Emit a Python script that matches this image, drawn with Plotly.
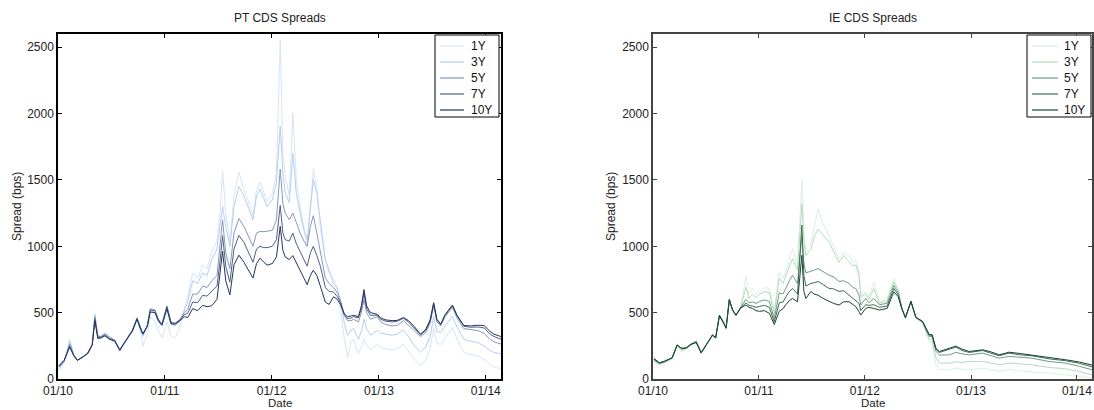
import plotly.graph_objects as go

# ---------------- Portugal (PT) CDS spreads, bps ----------------
pt_dates = [
    "2010-01-04", "2010-01-22", "2010-02-10", "2010-02-24", "2010-03-08", "2010-03-25", "2010-04-12", "2010-04-28", "2010-05-07", "2010-05-17",
    "2010-05-28", "2010-06-10", "2010-06-25", "2010-07-14", "2010-07-31", "2010-08-15", "2010-08-28", "2010-09-12", "2010-09-28", "2010-10-08",
    "2010-10-18", "2010-11-02", "2010-11-12", "2010-11-28", "2010-12-10", "2010-12-22", "2011-01-08", "2011-01-22", "2011-02-05", "2011-02-22",
    "2011-03-08", "2011-03-20", "2011-04-06", "2011-04-23", "2011-05-10", "2011-05-25", "2011-06-10", "2011-06-28", "2011-07-08", "2011-07-17",
    "2011-07-28", "2011-08-11", "2011-08-25", "2011-09-11", "2011-09-28", "2011-10-12", "2011-10-29", "2011-11-10", "2011-11-22", "2011-12-05",
    "2011-12-16", "2012-01-03", "2012-01-17", "2012-01-30", "2012-02-08", "2012-02-16", "2012-03-01", "2012-03-13", "2012-03-25", "2012-04-07",
    "2012-04-20", "2012-05-01", "2012-05-12", "2012-05-22", "2012-06-03", "2012-06-15", "2012-07-02", "2012-07-15", "2012-07-30", "2012-08-12",
    "2012-08-23", "2012-09-05", "2012-09-16", "2012-09-28", "2012-10-06", "2012-10-23", "2012-11-02", "2012-11-11", "2012-11-20", "2012-12-03",
    "2012-12-27", "2013-01-07", "2013-01-25", "2013-02-15", "2013-03-05", "2013-03-26", "2013-04-12", "2013-05-02", "2013-05-23", "2013-06-10",
    "2013-06-25", "2013-07-07", "2013-07-18", "2013-07-31", "2013-08-15", "2013-09-09", "2013-09-25", "2013-10-18", "2013-11-10", "2013-12-05",
    "2013-12-26", "2014-01-15", "2014-01-29", "2014-02-22",
]
pt_1y = [
    65, 120, 300, 190, 140, 160, 190, 260, 480, 320,
    300, 340, 310, 280, 210, 260, 300, 360, 450, 380,
    250, 330, 470, 430, 360, 310, 430, 320, 310, 390,
    520, 620, 800, 761, 860, 830, 963, 1040, 1250, 1570,
    1250, 1037, 1380, 1560, 1420, 1350, 1231, 1420, 1485, 1400,
    1336, 1400, 1550, 2552, 1700, 1530, 1383, 2005, 1500, 1300,
    1150, 1010, 1300, 1582, 1435, 1134, 888, 800, 760, 687,
    515, 300, 164, 280, 300, 190, 240, 300, 260, 220,
    261, 240, 226, 220, 230, 260, 210, 150, 104, 140,
    230, 388, 270, 260, 310, 388, 300, 200, 185, 175,
    150, 110, 90, 77,
]
pt_3y = [
    78, 130, 285, 185, 142, 162, 195, 265, 490, 330,
    320, 350, 320, 295, 222, 275, 315, 370, 465, 400,
    320, 400, 520, 500, 440, 400, 520, 410, 400, 440,
    520, 580, 740, 720, 800, 780, 900, 980, 1150, 1300,
    1150, 1000, 1300, 1450, 1380, 1300, 1200, 1380, 1430, 1360,
    1300, 1350, 1480, 1905, 1550, 1400, 1330, 1700, 1400, 1250,
    1120, 1050, 1300, 1500, 1400, 1200, 900, 820, 720, 680,
    580, 420, 330, 370, 380, 300, 360, 450, 380, 330,
    366, 345, 338, 330, 338, 370, 320, 250, 201, 240,
    320, 470, 360, 350, 400, 470, 390, 300, 285, 275,
    250, 215, 200, 189,
]
pt_5y = [
    88, 135, 265, 180, 142, 163, 195, 262, 470, 320,
    320, 340, 315, 292, 220, 275, 315, 368, 460, 395,
    338, 405, 530, 520, 450, 415, 552, 430, 420, 450,
    500, 525, 640, 640, 700, 690, 739, 780, 980, 1200,
    950, 830, 1100, 1209, 1150, 1080, 1000, 1100, 1112, 1110,
    1112, 1120, 1200, 1582, 1320, 1250, 1200, 1250, 1180, 1100,
    1040, 1000, 1150, 1231, 1100, 950, 760, 720, 690, 650,
    590, 480, 440, 440, 450, 430, 500, 600, 500, 450,
    470, 430, 410, 400, 405, 440, 405, 360, 320, 350,
    420, 550, 430, 400, 470, 540, 460, 380, 370, 365,
    345, 300, 280, 263,
]
pt_7y = [
    95, 140, 250, 178, 142, 163, 192, 258, 455, 312,
    315, 332, 305, 288, 218, 272, 312, 365, 455, 390,
    340, 400, 520, 515, 445, 410, 545, 425, 418, 445,
    485, 495, 580, 575, 630, 625, 664, 700, 880, 1080,
    850, 730, 980, 1082, 1030, 960, 880, 980, 1000, 990,
    990, 1000, 1050, 1308, 1100, 1050, 1040, 1100, 1020, 960,
    900, 850, 950, 1000, 930, 850, 690, 660, 655, 620,
    575, 485, 455, 460, 470, 460, 530, 650, 530, 480,
    480, 450, 435, 430, 435, 458, 430, 385, 332, 365,
    435, 570, 445, 410, 480, 552, 475, 398, 390, 392,
    385, 340, 320, 300,
]
pt_10y = [
    100, 140, 240, 175, 140, 162, 190, 255, 440, 305,
    310, 325, 300, 285, 215, 270, 310, 360, 450, 385,
    338, 395, 505, 500, 435, 405, 530, 415, 413, 440,
    470, 463, 530, 515, 555, 545, 552, 600, 790, 963,
    740, 634, 860, 933, 880, 830, 761, 870, 910, 880,
    858, 870, 920, 1150, 970, 920, 900, 930, 880, 820,
    760, 711, 780, 820, 780, 700, 580, 562, 620, 600,
    560, 490, 470, 475, 480, 470, 550, 674, 550, 500,
    487, 460, 445, 440, 442, 463, 440, 395, 338, 375,
    445, 575, 450, 413, 485, 557, 480, 403, 400, 405,
    403, 360, 338, 320,
]

# ---------------- Ireland (IE) CDS spreads, bps ----------------
ie_dates = [
    "2010-01-04", "2010-01-23", "2010-02-10", "2010-03-08", "2010-03-25", "2010-04-10", "2010-04-25", "2010-05-12", "2010-05-30", "2010-06-16",
    "2010-07-03", "2010-07-25", "2010-08-05", "2010-08-18", "2010-09-01", "2010-09-10", "2010-09-21", "2010-10-02", "2010-10-14", "2010-10-30",
    "2010-11-17", "2010-11-28", "2010-12-10", "2010-12-22", "2011-01-03", "2011-01-20", "2011-02-06", "2011-02-23", "2011-03-12", "2011-03-25",
    "2011-04-04", "2011-04-16", "2011-04-27", "2011-05-14", "2011-05-29", "2011-06-05", "2011-06-12", "2011-06-29", "2011-07-10", "2011-07-24",
    "2011-08-08", "2011-08-31", "2011-09-15", "2011-10-04", "2011-10-20", "2011-11-08", "2011-11-20", "2011-12-01", "2011-12-12", "2011-12-18",
    "2012-01-04", "2012-01-15", "2012-02-01", "2012-02-20", "2012-03-18", "2012-04-10", "2012-04-25", "2012-05-08", "2012-05-20", "2012-06-08",
    "2012-06-25", "2012-07-18", "2012-08-10", "2012-08-20", "2012-09-02", "2012-09-14", "2012-10-18", "2012-11-10", "2012-12-01", "2012-12-26",
    "2013-02-10", "2013-03-10", "2013-04-08", "2013-05-12", "2013-06-20", "2013-07-30", "2013-09-27", "2013-11-23", "2014-01-10", "2014-02-22",
]
ie_1y = [
    125, 105, 120, 150, 245, 205, 225, 250, 290, 200,
    250, 320, 300, 470, 420, 375, 570, 510, 470, 530,
    772, 640, 682, 640, 660, 690, 682, 520, 810, 760,
    815, 900, 982, 857, 1495, 1100, 982, 1032, 1150, 1282,
    1180, 1082, 1000, 907, 957, 932, 880, 893, 807, 632,
    657, 620, 732, 580, 610, 757, 680, 540, 457, 582,
    457, 420, 282, 260, 107, 70, 70, 82, 75, 70,
    82, 70, 57, 70, 60, 52, 45, 32, 20, 7,
]
ie_3y = [
    135, 112, 125, 155, 252, 215, 232, 260, 288, 203,
    255, 325, 305, 478, 430, 380, 585, 520, 478, 535,
    690, 610, 640, 615, 640, 660, 650, 490, 760, 720,
    780, 850, 907, 820, 1320, 1030, 930, 980, 1070, 1130,
    1090, 1032, 960, 880, 932, 882, 850, 860, 780, 620,
    640, 600, 682, 570, 590, 732, 670, 535, 457, 582,
    460, 425, 300, 290, 160, 120, 120, 130, 125, 132,
    132, 120, 107, 120, 112, 107, 87, 77, 55, 32,
]
ie_5y = [
    145, 118, 130, 160, 257, 225, 235, 265, 282, 200,
    257, 330, 310, 482, 430, 385, 595, 525, 482, 540,
    600, 575, 580, 570, 585, 595, 585, 455, 650, 640,
    690, 740, 782, 720, 1080, 870, 800, 810, 820, 832,
    810, 782, 770, 735, 740, 720, 690, 682, 632, 557,
    607, 575, 607, 560, 570, 707, 650, 532, 460, 585,
    462, 430, 320, 320, 210, 180, 182, 200, 190, 182,
    195, 175, 157, 170, 162, 157, 132, 120, 95, 70,
]
ie_7y = [
    150, 120, 132, 160, 257, 230, 235, 262, 278, 197,
    257, 332, 312, 480, 425, 385, 598, 522, 482, 537,
    572, 555, 550, 540, 547, 555, 540, 430, 575, 580,
    620, 660, 682, 640, 1160, 780, 700, 720, 725, 735,
    715, 682, 680, 660, 665, 632, 610, 595, 570, 515,
    560, 555, 560, 540, 550, 682, 635, 530, 462, 585,
    465, 432, 330, 330, 225, 200, 225, 240, 215, 200,
    215, 195, 175, 195, 182, 175, 152, 138, 118, 92,
]
ie_10y = [
    155, 122, 135, 160, 255, 232, 232, 260, 275, 195,
    255, 332, 312, 478, 420, 382, 600, 520, 480, 535,
    557, 540, 532, 515, 510, 515, 495, 410, 510, 530,
    560, 590, 607, 582, 932, 660, 607, 660, 640, 632,
    610, 582, 570, 557, 582, 582, 560, 545, 507, 482,
    532, 540, 532, 520, 532, 657, 620, 525, 465, 585,
    465, 435, 335, 335, 232, 207, 232, 248, 225, 207,
    220, 205, 182, 202, 192, 182, 162, 145, 128, 105,
]

tenors = ["1Y", "3Y", "5Y", "7Y", "10Y"]
pt_colors = ["#d6e5f7", "#b4cff0", "#8797bb", "#4f5f8a", "#24335d"]
ie_colors = ["#dcefe1", "#b3dbbf", "#6c9d82", "#3d6c53", "#1b4431"]

FONT = "Liberation Sans, Arial, Helvetica, sans-serif"
W, H = 1094, 410


def px(x):
    return x / W


def py(y):
    return 1 - y / H


fig = go.Figure()
for name, ys, col in zip(tenors, [pt_1y, pt_3y, pt_5y, pt_7y, pt_10y], pt_colors):
    fig.add_trace(go.Scatter(x=pt_dates, y=ys, mode="lines", name=name,
                             line=dict(color=col, width=1), showlegend=False,
                             xaxis="x", yaxis="y"))
for name, ys, col in zip(tenors, [ie_1y, ie_3y, ie_5y, ie_7y, ie_10y], ie_colors):
    fig.add_trace(go.Scatter(x=ie_dates, y=ys, mode="lines", name=name,
                             line=dict(color=col, width=1), showlegend=False,
                             xaxis="x2", yaxis="y2"))

year_ticks = ["2010-01-01", "2011-01-01", "2012-01-01", "2013-01-01", "2014-01-01"]
year_text = ["01/10", "01/11", "01/12", "01/13", "01/14"]
tick_font = dict(family=FONT, size=12, color="#222222")


def x_axis(domain, anchor, line_col):
    return dict(domain=domain, anchor=anchor, range=["2010-01-01", "2014-02-22"],
                tickvals=year_ticks, ticktext=year_text, tickfont=tick_font,
                showline=True, linecolor=line_col, linewidth=1.5, mirror="ticks",
                ticks="inside", ticklen=4, tickcolor=line_col, tickwidth=1,
                showgrid=False, zeroline=False, automargin=False)


def y_axis(domain, anchor, line_col):
    return dict(domain=domain, anchor=anchor, range=[0, 2600], dtick=500, tick0=0,
                tickfont=tick_font, showline=True, linecolor=line_col, linewidth=1.5,
                mirror="ticks", ticks="inside", ticklen=4, tickcolor=line_col, tickwidth=1,
                showgrid=False, zeroline=False, automargin=False)


# framed legend boxes drawn in the upper right corner of each panel
shapes = []
annotations = []


def add_legend(box_left, box_right, line_x0, line_x1, text_x, colors):
    shapes.append(dict(type="rect", xref="paper", yref="paper",
                       x0=px(box_left), x1=px(box_right), y0=py(117), y1=py(35),
                       line=dict(color="black", width=1), fillcolor="white", layer="above"))
    for i, (name, col) in enumerate(zip(tenors, colors)):
        yy = py(46 + 16 * i)
        shapes.append(dict(type="line", xref="paper", yref="paper",
                           x0=px(line_x0), x1=px(line_x1), y0=yy, y1=yy,
                           line=dict(color=col, width=1.2), layer="above"))
        annotations.append(dict(text=name, x=px(text_x), y=yy, xref="paper", yref="paper",
                                xanchor="left", yanchor="middle", showarrow=False,
                                font=dict(family=FONT, size=12, color="#111111")))


add_legend(435, 499, 440, 464, 469, pt_colors)
add_legend(1027, 1091, 1032, 1058, 1062, ie_colors)

label_font = dict(family=FONT, size=12, color="#222222")
for cx, title in [(279.5, "PT CDS Spreads"), (872.5, "IE CDS Spreads")]:
    annotations.append(dict(text=title, x=px(cx), y=py(18), xref="paper", yref="paper",
                            xanchor="center", yanchor="middle", showarrow=False, font=label_font))
    annotations.append(dict(text="Date", x=px(cx), y=0, xref="paper", yref="paper",
                            xanchor="center", yanchor="bottom", showarrow=False,
                            font=dict(family=FONT, size=11.5, color="#222222"), borderpad=0))
for lx in [17, 611]:
    annotations.append(dict(text="Spread (bps)", x=px(lx), y=py(207), xref="paper", yref="paper",
                            xanchor="center", yanchor="middle", textangle=-90,
                            showarrow=False, font=label_font))

ydom = [py(379), py(34)]
fig.update_layout(
    width=W, height=H,
    margin=dict(l=0, r=0, t=0, b=0, autoexpand=False),
    paper_bgcolor="white", plot_bgcolor="white",
    showlegend=False,
    xaxis=x_axis([px(58), px(501)], "y", "black"),
    yaxis=y_axis(ydom, "x", "black"),
    xaxis2=x_axis([px(653), px(1092)], "y2", "#444444"),
    yaxis2=y_axis(ydom, "x2", "#444444"),
    shapes=shapes,
    annotations=annotations,
)

fig.write_html("out.html")
